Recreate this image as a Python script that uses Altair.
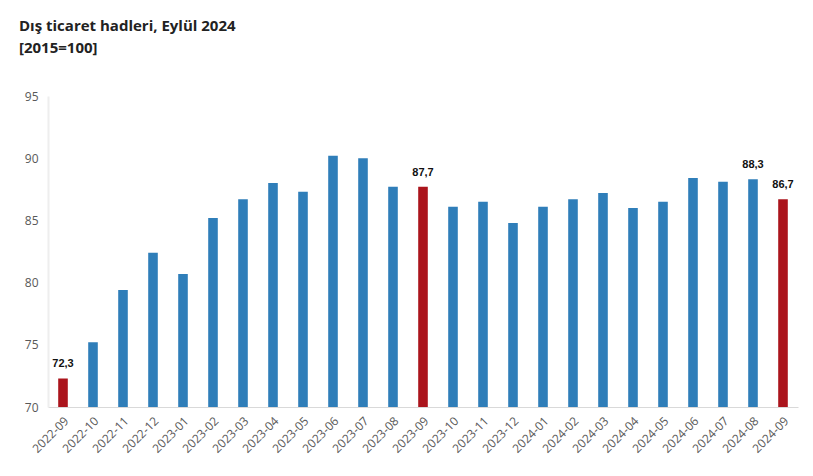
import altair as alt
import pandas as pd

months = ["2022-09","2022-10","2022-11","2022-12","2023-01","2023-02","2023-03","2023-04",
          "2023-05","2023-06","2023-07","2023-08","2023-09","2023-10","2023-11","2023-12",
          "2024-01","2024-02","2024-03","2024-04","2024-05","2024-06","2024-07","2024-08","2024-09"]
values = [72.3, 75.2, 79.4, 82.4, 80.7, 85.2, 86.7, 88.0, 87.3, 90.2, 90.0, 87.7, 87.7,
          86.1, 86.5, 84.8, 86.1, 86.7, 87.2, 86.0, 86.5, 88.4, 88.1, 88.3, 86.7]
highlight = ["2022-09", "2023-09", "2024-09"]
labelled = ["2022-09", "2023-09", "2024-08", "2024-09"]

df = pd.DataFrame({"ay": months, "deger": values})
df["renk"] = ["vurgu" if m in highlight else "normal" for m in months]
df["etiket"] = [f"{v:.1f}".replace(".", ",") if m in labelled else "" for m, v in zip(months, values)]

x = alt.X("ay:N", sort=months, title=None,
          scale=alt.Scale(paddingInner=0.68, paddingOuter=0.34),
          axis=alt.Axis(labelAngle=-45, labelColor="#595959", labelFontSize=12,
                        labelFont="Open Sans", ticks=False, domainColor="#d9d9d9",
                        labelPadding=8))
y = alt.Y("deger:Q", title=None,
          scale=alt.Scale(domain=[70, 95], zero=False, clamp=True, nice=False),
          axis=alt.Axis(values=[70, 75, 80, 85, 90, 95], grid=False, ticks=False,
                        labelColor="#595959", labelFontSize=12, labelFont="Open Sans",
                        domainColor="#eeeeee", domainWidth=2, labelPadding=10))

bars = alt.Chart(df).mark_bar().encode(
    x=x, y=y,
    color=alt.Color("renk:N", scale=alt.Scale(domain=["normal", "vurgu"],
                                              range=["#2f7eb9", "#ab141c"]), legend=None),
)
text = alt.Chart(df).mark_text(dy=-14, fontWeight="bold", fontSize=11, color="#111111",
                               font="Liberation Sans").encode(
    x=alt.X("ay:N", sort=months), y="deger:Q", text="etiket:N")

chart = (bars + text).properties(
    width=750, height=311,
    title=alt.TitleParams(text=["Dış ticaret hadleri, Eylül 2024", "[2015=100]"],
                          anchor="start", frame="group", fontSize=15, fontWeight="bold",
                          font="Open Sans", color="#222222", dx=-29, offset=34,
                          lineHeight=22),
    padding={"left": 40, "top": 88, "right": 5, "bottom": 55},
    autosize=alt.AutoSizeParams(type="none"),
).configure_view(stroke=None)

chart.save("out.html", embed_options={"renderer": "svg", "actions": False})
